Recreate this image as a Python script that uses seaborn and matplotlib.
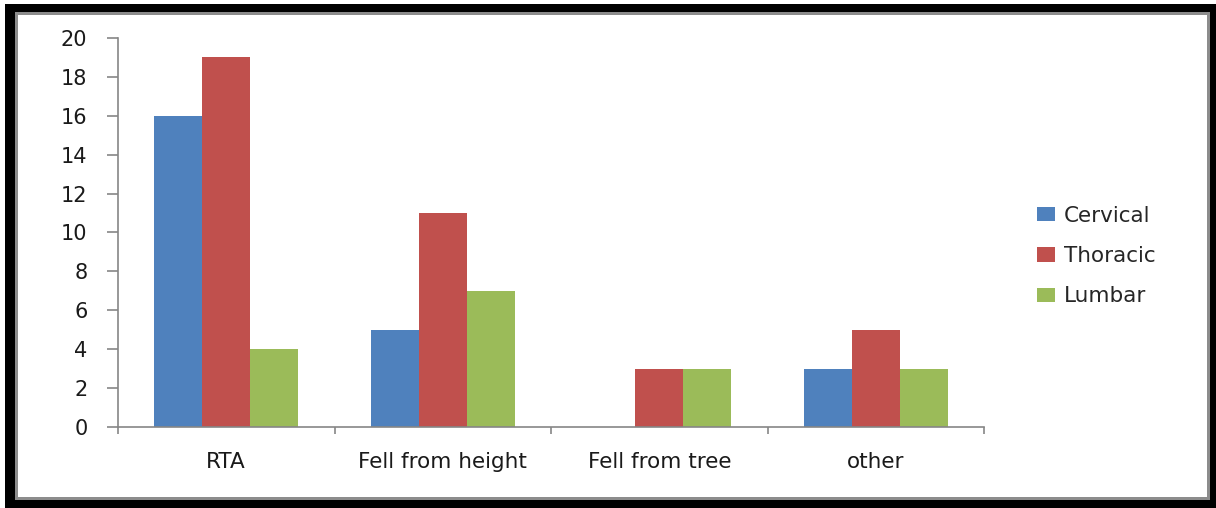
import matplotlib
matplotlib.use("Agg")
import matplotlib.pyplot as plt
from matplotlib.patches import Rectangle
from matplotlib.ticker import FixedLocator
import seaborn as sns
import pandas as pd

causes = ["RTA", "Fell from height", "Fell from tree", "other"]
regions = ["Cervical", "Thoracic", "Lumbar"]
cervical = [16, 5, 0, 3]
thoracic = [19, 11, 3, 5]
lumbar = [4, 7, 3, 3]
colors = ["#4F81BD", "#C0504D", "#9BBB59"]
y_ticks = [0, 2, 4, 6, 8, 10, 12, 14, 16, 18, 20]

df = pd.DataFrame({
    "cause": causes * 3,
    "region": [r for r in regions for _ in causes],
    "count": cervical + thoracic + lumbar,
})

sns.set_style("white")
plt.rcParams["font.family"] = ["DejaVu Sans"]

W, H = 1216, 508
fig = plt.figure(figsize=(W / 100, H / 100), dpi=100)
fig.patch.set_facecolor("white")

ax = fig.add_axes([118 / W, 1 - 427 / H, (984 - 118) / W, (427 - 38) / H])
sns.barplot(data=df, x="cause", y="count", hue="region", palette=colors,
            width=0.665, saturation=1, ax=ax, edgecolor="none")

axis_gray = "#868686"
text_color = "#1a1a1a"
ax.set_xlim(-0.5, 3.5)
ax.set_ylim(0, 20)
ax.set_yticks(y_ticks)
ax.set_yticklabels([str(v) for v in y_ticks], fontsize=15, color=text_color)
ax.set_xticks(range(len(causes)))
ax.set_xticklabels(causes, fontsize=15.5, color=text_color)
ax.xaxis.set_minor_locator(FixedLocator([-0.5, 0.5, 1.5, 2.5, 3.5]))
ax.tick_params(axis="x", which="major", bottom=True, length=0, pad=18)
ax.tick_params(axis="x", which="minor", bottom=True, length=5, width=1.2,
               color=axis_gray, direction="out")
ax.tick_params(axis="y", which="major", left=True, length=8, width=1.2,
               color=axis_gray, direction="out", pad=14)
ax.set_xlabel("")
ax.set_ylabel("")
for side in ["top", "right"]:
    ax.spines[side].set_visible(False)
for side in ["left", "bottom"]:
    ax.spines[side].set_color(axis_gray)
    ax.spines[side].set_linewidth(1.2)

handles, labels = ax.get_legend_handles_labels()
ax.legend(handles, labels, loc="center left", bbox_to_anchor=(1037 / W, 1 - 256 / H),
          bbox_transform=fig.transFigure, frameon=False, fontsize=15.5,
          borderpad=0, borderaxespad=0, handlelength=0.85, handleheight=0.65,
          handletextpad=0.4, labelspacing=0.95)

# Border frame: black outer band with a thin gray inner line
def px_rect(x0, y0, x1, y1, color):
    fig.patches.append(Rectangle((x0 / W, 1 - y1 / H), (x1 - x0) / W, (y1 - y0) / H,
                                 transform=fig.transFigure, facecolor=color,
                                 edgecolor="none", zorder=10))

px_rect(5, 4, 1216, 12, "black")
px_rect(5, 4, 15, 508, "black")
px_rect(1210, 4, 1216, 508, "black")
px_rect(5, 500, 1216, 508, "black")
px_rect(15, 12, 1210, 15, "#8c8c8c")
px_rect(15, 12, 18, 500, "#8c8c8c")
px_rect(1207, 12, 1210, 500, "#8c8c8c")
px_rect(15, 497, 1210, 500, "#8c8c8c")

fig.savefig("out.png", dpi=100)
